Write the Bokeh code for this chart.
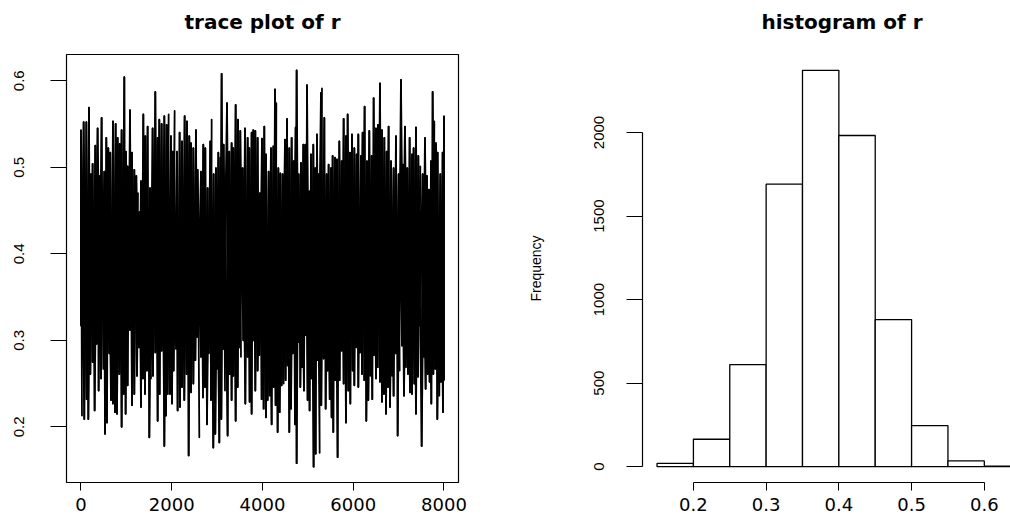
from bokeh.plotting import figure
from bokeh.layouts import row
from bokeh.models import Range1d, FixedTicker, Title
from bokeh.embed import file_html
from bokeh.resources import INLINE

# ---------------- data ----------------
# trace of r: upper and lower excursions (iteration, value)
up_iter = [0, 59, 118, 176, 220, 257, 316, 367, 411, 455, 514, 558, 602, 646, 705, 764, 808, 852, 896, 955,
           992, 1028, 1080, 1124, 1175, 1219, 1256, 1286, 1322, 1374, 1418, 1469, 1521, 1579, 1638, 1690, 1726,
           1778, 1837, 1888, 1932, 1983, 2020, 2064, 2116, 2174, 2226, 2285, 2336, 2387, 2424, 2476, 2534, 2571,
           2645, 2696, 2740, 2791, 2850, 2880, 2924, 2975, 3027, 3071, 3100, 3144, 3218, 3269, 3320, 3357, 3409,
           3460, 3511, 3563, 3614, 3673, 3710, 3761, 3798, 3842, 3893, 3945, 3989, 4040, 4077, 4136, 4187, 4239,
           4275, 4305, 4349, 4393, 4444, 4496, 4540, 4591, 4643, 4687, 4731, 4753, 4797, 4848, 4900, 4944, 4981,
           5032, 5069, 5120, 5164, 5201, 5238, 5289, 5311, 5363, 5414, 5458, 5510, 5546, 5598, 5642, 5693, 5745,
           5789, 5840, 5877, 5928, 5972, 6024, 6075, 6112, 6171, 6207, 6251, 6303, 6354, 6406, 6450, 6501, 6545,
           6589, 6633, 6685, 6736, 6780, 6832, 6890, 6942, 7001, 7052, 7096, 7140, 7192, 7243, 7295, 7331, 7383,
           7434, 7478, 7530, 7581, 7625, 7669, 7713, 7750, 7787, 7823, 7860, 7919, 7970, 8000]
up_val = [0.543, 0.552, 0.552, 0.569, 0.492, 0.504, 0.525, 0.545, 0.490, 0.557, 0.495, 0.534, 0.522, 0.517, 0.553,
          0.550, 0.534, 0.527, 0.543, 0.604, 0.518, 0.501, 0.566, 0.517, 0.497, 0.490, 0.470, 0.448, 0.484, 0.561,
          0.536, 0.547, 0.476, 0.545, 0.587, 0.534, 0.555, 0.550, 0.559, 0.549, 0.561, 0.536, 0.518, 0.565, 0.518,
          0.540, 0.530, 0.559, 0.553, 0.536, 0.528, 0.522, 0.543, 0.497, 0.495, 0.526, 0.522, 0.476, 0.530, 0.555,
          0.492, 0.499, 0.517, 0.511, 0.608, 0.526, 0.574, 0.518, 0.528, 0.522, 0.572, 0.555, 0.542, 0.499, 0.545,
          0.534, 0.522, 0.540, 0.543, 0.542, 0.534, 0.470, 0.533, 0.547, 0.515, 0.495, 0.522, 0.524, 0.590, 0.574,
          0.499, 0.493, 0.492, 0.532, 0.556, 0.522, 0.534, 0.507, 0.546, 0.612, 0.492, 0.505, 0.526, 0.526, 0.595,
          0.472, 0.515, 0.526, 0.499, 0.538, 0.492, 0.586, 0.591, 0.557, 0.492, 0.503, 0.499, 0.513, 0.511, 0.509,
          0.530, 0.507, 0.556, 0.536, 0.561, 0.517, 0.538, 0.522, 0.515, 0.538, 0.513, 0.540, 0.570, 0.507, 0.542,
          0.513, 0.580, 0.545, 0.549, 0.597, 0.543, 0.534, 0.518, 0.547, 0.507, 0.499, 0.536, 0.492, 0.601, 0.503,
          0.547, 0.499, 0.534, 0.515, 0.522, 0.546, 0.513, 0.501, 0.492, 0.534, 0.490, 0.474, 0.507, 0.587, 0.553,
          0.528, 0.517, 0.492, 0.517, 0.559]
lo_iter = [0, 22, 73, 125, 162, 206, 257, 301, 345, 389, 441, 492, 529, 573, 624, 661, 705, 749, 793, 845, 896,
           940, 984, 1028, 1080, 1124, 1175, 1234, 1278, 1322, 1366, 1410, 1455, 1506, 1543, 1587, 1638, 1690, 1734,
           1778, 1837, 1873, 1910, 1961, 2005, 2042, 2094, 2130, 2182, 2226, 2277, 2329, 2373, 2424, 2476, 2520,
           2564, 2608, 2645, 2689, 2733, 2777, 2821, 2865, 2916, 2960, 2997, 3049, 3093, 3137, 3174, 3232, 3276,
           3320, 3357, 3409, 3453, 3497, 3526, 3577, 3622, 3673, 3717, 3761, 3798, 3842, 3893, 3930, 3982, 4026,
           4077, 4114, 4158, 4202, 4246, 4290, 4334, 4378, 4422, 4466, 4510, 4555, 4591, 4628, 4672, 4716, 4753,
           4797, 4834, 4870, 4914, 4959, 4995, 5039, 5083, 5127, 5172, 5216, 5260, 5296, 5348, 5392, 5436, 5480,
           5524, 5561, 5605, 5656, 5700, 5745, 5789, 5840, 5891, 5936, 5987, 6024, 6068, 6112, 6149, 6193, 6244,
           6288, 6332, 6376, 6420, 6457, 6501, 6538, 6589, 6633, 6677, 6722, 6766, 6810, 6854, 6890, 6935, 6979,
           7023, 7074, 7118, 7162, 7206, 7251, 7295, 7346, 7383, 7427, 7456, 7508, 7552, 7596, 7640, 7684, 7721,
           7765, 7809, 7853, 7897, 7934, 7978, 8000]
lo_val = [0.317, 0.213, 0.209, 0.232, 0.209, 0.261, 0.275, 0.219, 0.296, 0.242, 0.256, 0.267, 0.192, 0.205, 0.285,
          0.231, 0.227, 0.217, 0.215, 0.261, 0.200, 0.238, 0.215, 0.248, 0.312, 0.225, 0.238, 0.259, 0.292, 0.223,
          0.256, 0.238, 0.265, 0.188, 0.256, 0.259, 0.286, 0.207, 0.238, 0.288, 0.178, 0.213, 0.238, 0.238, 0.227,
          0.265, 0.290, 0.219, 0.223, 0.246, 0.231, 0.261, 0.167, 0.240, 0.250, 0.277, 0.304, 0.188, 0.281, 0.234,
          0.246, 0.203, 0.285, 0.231, 0.176, 0.192, 0.267, 0.182, 0.209, 0.290, 0.242, 0.190, 0.261, 0.231, 0.259,
          0.207, 0.246, 0.292, 0.281, 0.300, 0.227, 0.281, 0.229, 0.215, 0.300, 0.242, 0.265, 0.283, 0.232, 0.221,
          0.211, 0.231, 0.236, 0.203, 0.246, 0.225, 0.194, 0.217, 0.248, 0.250, 0.254, 0.271, 0.194, 0.221, 0.285,
          0.203, 0.158, 0.298, 0.246, 0.269, 0.242, 0.306, 0.231, 0.219, 0.256, 0.154, 0.169, 0.277, 0.170, 0.225,
          0.279, 0.221, 0.265, 0.232, 0.211, 0.194, 0.254, 0.165, 0.254, 0.288, 0.250, 0.205, 0.242, 0.227, 0.265,
          0.248, 0.292, 0.246, 0.286, 0.261, 0.254, 0.207, 0.231, 0.259, 0.232, 0.283, 0.256, 0.269, 0.252, 0.229,
          0.238, 0.215, 0.246, 0.223, 0.259, 0.236, 0.285, 0.190, 0.265, 0.294, 0.236, 0.269, 0.261, 0.240, 0.238,
          0.250, 0.215, 0.258, 0.317, 0.178, 0.281, 0.244, 0.261, 0.252, 0.227, 0.261, 0.267, 0.209, 0.236, 0.252,
          0.217, 0.254]

# histogram of r
breaks = [0.15, 0.20, 0.25, 0.30, 0.35, 0.40, 0.45, 0.50, 0.55, 0.60, 0.65]
counts = [20, 164, 611, 1691, 2372, 1982, 880, 245, 34, 3]

# tick labels
trace_xticks = [0, 2000, 4000, 6000, 8000]
trace_xlabels = ["0", "2000", "4000", "6000", "8000"]
trace_yticks = [0.2, 0.3, 0.4, 0.5, 0.6]
trace_ylabels = ["0.2", "0.3", "0.4", "0.5", "0.6"]
hist_xticks = [0.2, 0.3, 0.4, 0.5, 0.6]
hist_xlabels = ["0.2", "0.3", "0.4", "0.5", "0.6"]
hist_yticks = [0, 500, 1000, 1500, 2000]
hist_ylabels = ["0", "500", "1000", "1500", "2000"]

# ---------------- styling ----------------
TITLE_FONT = "DejaVu Sans"
XT_FONT = "DejaVu Sans"
YT_FONT = "Liberation Sans"


def nearest(sorted_x, x):
    best = 0
    for j, v in enumerate(sorted_x):
        if abs(v - x) < abs(sorted_x[best] - x):
            best = j
    return best


def zigzag(a_iter, a_val, b_iter, b_val):
    """Visit each excursion of one side, then the nearest excursion of the other side."""
    xs, ys = [], []
    for i, v in zip(a_iter, a_val):
        j = nearest(b_iter, i)
        xs += [i, b_iter[j]]
        ys += [v, b_val[j]]
    return xs, ys


ax1, ay1 = zigzag(up_iter, up_val, lo_iter, lo_val)
ax2, ay2 = zigzag(lo_iter, lo_val, up_iter, up_val)

all_vals = up_val + lo_val
vmin, vmax = min(all_vals), max(all_vals)
vpad = 0.04 * (vmax - vmin)
n_iter = max(up_iter)
ipad = 0.04 * (n_iter - 1)


def style_axis(ax, ticks, labels, font, size, tick_out, standoff, vertical=False):
    ax.ticker = FixedTicker(ticks=ticks)
    ax.major_label_overrides = {t: l for t, l in zip(ticks, labels)}
    ax.minor_tick_line_color = None
    ax.minor_tick_out = 0
    ax.major_tick_in = 0
    ax.major_tick_out = tick_out
    ax.major_tick_line_color = "black"
    ax.major_tick_line_width = 1
    ax.major_label_text_font = font
    ax.major_label_text_font_size = size
    ax.major_label_text_color = "black"
    ax.major_label_standoff = standoff
    if vertical:
        ax.major_label_orientation = "vertical"


def add_title(p, text, offset):
    # a thin spacer next to the frame, then the real title above it
    p.add_layout(Title(text=" ", text_font_size="1px", standoff=7), "above")
    p.add_layout(Title(text=text, align="left", offset=offset, vertical_align="top",
                       text_font=TITLE_FONT, text_font_size="20px", text_font_style="bold",
                       text_color="black", standoff=18), "above")


# ---------------- left: trace plot ----------------
p1 = figure(width=470, height=519, output_backend="svg", toolbar_location=None,
            x_range=Range1d(1 - ipad, n_iter + ipad), y_range=Range1d(vmin - vpad, vmax + vpad),
            min_border_left=66, min_border_right=12, min_border_top=53, min_border_bottom=37)
add_title(p1, "trace plot of r", 118)
p1.line(ax1, ay1, line_color="black", line_width=1.8, line_join="round")
p1.line(ax2, ay2, line_color="black", line_width=1.8, line_join="round")
p1.grid.visible = False
p1.outline_line_color = "black"
p1.outline_line_width = 1.2
p1.outline_line_alpha = 1
p1.background_fill_color = "white"
p1.border_fill_color = "white"
style_axis(p1.xaxis[0], trace_xticks, trace_xlabels, XT_FONT, "18px", 8, 7)
style_axis(p1.yaxis[0], trace_yticks, trace_ylabels, YT_FONT, "15px", 16, 26, vertical=True)
p1.xaxis[0].axis_line_color = None
p1.yaxis[0].axis_line_color = None

# ---------------- right: histogram ----------------
cpad = 0.04 * max(counts)
p2 = figure(width=540, height=519, output_backend="svg", toolbar_location=None,
            x_range=Range1d(breaks[0] - 0.04 * (breaks[-1] - breaks[0]), 0.636),
            y_range=Range1d(-cpad, max(counts) + cpad),
            min_border_left=172, min_border_right=0, min_border_top=53, min_border_bottom=37)
add_title(p2, "histogram of r", 119)
p2.quad(left=breaks[:-1], right=breaks[1:], bottom=0, top=counts,
        fill_color="white", line_color="black", line_width=1.3)
p2.grid.visible = False
p2.outline_line_color = None
p2.background_fill_color = "white"
p2.border_fill_color = "white"
style_axis(p2.xaxis[0], hist_xticks, hist_xlabels, XT_FONT, "18px", 8, 7)
style_axis(p2.yaxis[0], hist_yticks, hist_ylabels, YT_FONT, "15px", 16, 22, vertical=True)
p2.xaxis[0].bounds = (hist_xticks[0], hist_xticks[-1])
p2.yaxis[0].bounds = (hist_yticks[0], hist_yticks[-1])
p2.xaxis[0].axis_line_color = "black"
p2.xaxis[0].axis_line_width = 1.2
p2.yaxis[0].axis_line_color = "black"
p2.yaxis[0].axis_line_width = 1.2
p2.yaxis[0].axis_label = "Frequency"
p2.yaxis[0].axis_label_text_font = YT_FONT
p2.yaxis[0].axis_label_text_font_size = "14px"
p2.yaxis[0].axis_label_text_font_style = "normal"
p2.yaxis[0].axis_label_text_color = "black"
p2.yaxis[0].axis_label_standoff = 48

layout = row(p1, p2)
open("out.html", "w").write(file_html(layout, INLINE))
